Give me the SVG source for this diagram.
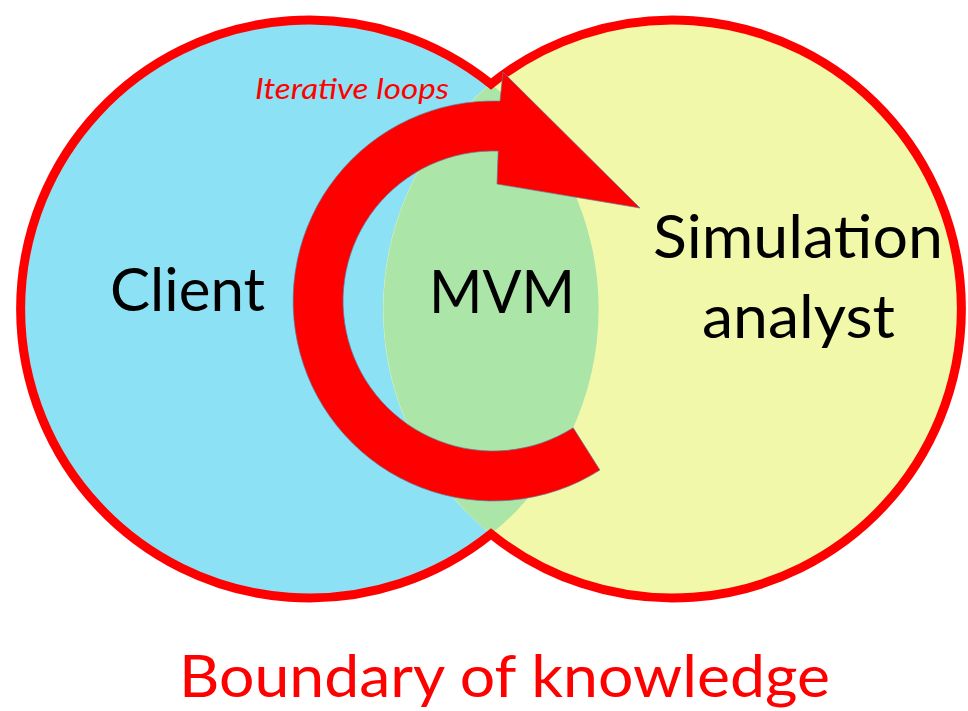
<svg xmlns="http://www.w3.org/2000/svg" width="968" height="711" viewBox="0 0 968 711">
  <style>
    .label { font-family: Lato, "Liberation Sans", "Noto Sans", sans-serif; font-size: 60px; fill: #000000; }
    .red { fill: #FF0000; }
    .outline { fill: none; stroke: #FF0000; stroke-width: 9; stroke-linejoin: miter; }
    .loop { fill: #FF0000; stroke: #5E7C98; stroke-width: 1; stroke-opacity: 0.7; }
  </style>

  <!-- Client domain -->
  <g id="client">
    <circle cx="310" cy="309" r="289" fill="#8CE1F4"/>
    <text class="label" x="110" y="311" textLength="155" lengthAdjust="spacingAndGlyphs">Client</text>
  </g>

  <!-- Simulation analyst domain -->
  <g id="analyst">
    <circle cx="672" cy="309" r="289" fill="#F1F8AA"/>
    <text class="label" x="653" y="258" textLength="290" lengthAdjust="spacingAndGlyphs">Simulation</text>
    <text class="label" x="702" y="338" textLength="193" lengthAdjust="spacingAndGlyphs">analyst</text>
  </g>

  <!-- Shared region: the MVM -->
  <g id="mvm">
    <path d="M 491 84 A 289 289 0 0 1 491 534 A 289 289 0 0 1 491 84 Z" fill="#ABE5A8"/>
  </g>

  <!-- Boundary of knowledge outline -->
  <g id="boundary">
    <path class="outline" d="M 491 84 A 289 289 0 1 0 491 534 A 289 289 0 1 0 491 84 Z"/>
    <text class="label red" x="179" y="697" font-size="58" style="font-size:58px" textLength="651" lengthAdjust="spacingAndGlyphs">Boundary of knowledge</text>
  </g>

  <!-- Iterative loop arrow -->
  <g id="connectors">
    <path class="loop" d="M 500 101.1 A 200 200 0 1 0 599.9 470.1 L 573.2 427.8 A 150 150 0 1 1 498.2 151.1 L 497 184 L 640 208 L 503 72 Z"/>
    <text class="red" x="255" y="99" font-family="Lato, 'Liberation Sans', sans-serif" font-style="italic" font-size="29" textLength="194" lengthAdjust="spacingAndGlyphs">Iterative loops</text>
  </g>

  <!-- MVM label sits above the loop -->
  <g id="mvm-label">
    <text class="label" x="429" y="313" textLength="146" lengthAdjust="spacingAndGlyphs">MVM</text>
  </g>
</svg>
